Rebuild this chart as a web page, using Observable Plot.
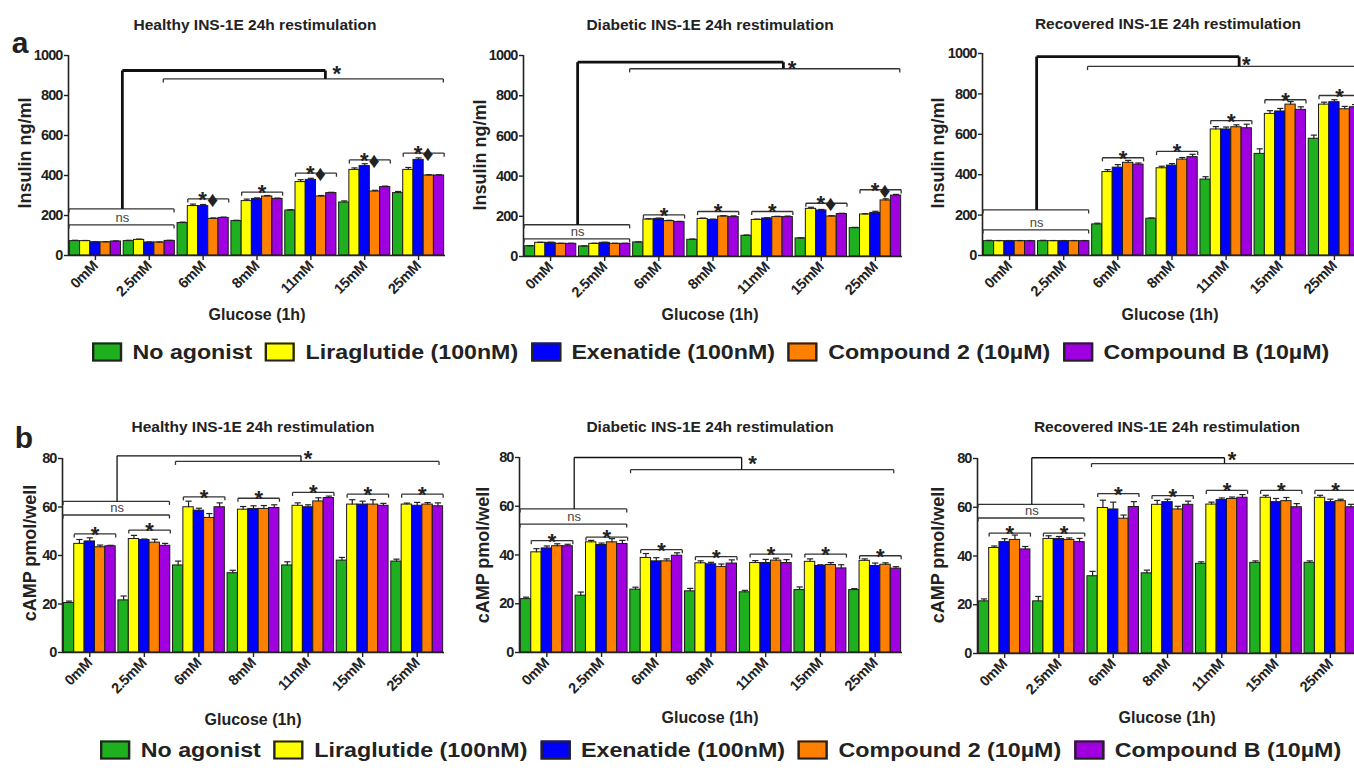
<!DOCTYPE html>
<html><head><meta charset="utf-8">
<script src="https://cdn.jsdelivr.net/npm/d3@7"></script>
<script src="https://cdn.jsdelivr.net/npm/@observablehq/plot@0.6"></script>
<style>
body{margin:0;background:#fff;}
#fig{position:relative;width:1354px;height:772px;overflow:hidden;background:#fff;font-family:'Liberation Sans',Arial,sans-serif;color:#222;}
.abs{position:absolute;white-space:nowrap;}
.title{font-weight:bold;font-size:15.5px;transform:translate(-50%,-50%);}
.xl{font-weight:bold;font-size:16px;transform:translate(-50%,-50%);}
.yl{font-weight:bold;font-size:18px;transform:translate(-50%,-50%) rotate(-90deg);}
.letter{font-weight:bold;font-size:30px;transform:translate(-50%,-50%);}
.legend{display:flex;align-items:center;font-weight:bold;font-size:20px;transform-origin:0 50%;}
.sw{display:inline-block;width:22px;height:15px;border:2px solid #222;margin-right:9px;}
.item{display:flex;align-items:center;margin-right:11px;}
</style></head>
<body><div id="fig"></div>
<script>
const glucose = ["0mM","2.5mM","6mM","8mM","11mM","15mM","25mM"];
const treatments = ["No agonist","Liraglutide (100nM)","Exenatide (100nM)","Compound 2 (10µM)","Compound B (10µM)"];
const colors = ["#1fb01f","#ffff00","#0000ff","#ff7f00","#a000e0"];

// Insulin ng/ml (rows = treatments, columns = glucose)
const insulinHealthy = [
  [72,72,162,172,225,265,312],
  [72,78,247,272,367,428,428],
  [66,65,247,283,378,447,478],
  [66,65,183,295,295,320,400],
  [70,73,188,283,312,342,400]];
const insulinHealthyErr = [
  [4,4,5,4,4,8,8],[3,4,10,10,12,10,12],[3,3,8,5,8,12,10],[3,3,5,5,5,6,4],[3,3,4,4,4,5,4]];
const insulinDiabetic = [
  [51,50,70,83,103,90,141],
  [68,63,184,187,182,237,209],
  [68,68,187,182,189,229,217],
  [63,63,176,199,196,199,279],
  [63,63,171,196,196,211,303]];
const insulinDiabeticErr = [
  [3,3,3,4,4,3,4],[3,3,4,4,4,8,4],[3,3,4,4,4,5,8],[3,3,4,4,4,4,8],[3,3,4,6,5,4,6]];
const insulinRecovered = [
  [71,71,154,182,376,503,578],
  [71,71,413,432,624,701,747],
  [71,71,435,445,624,713,759],
  [71,71,459,475,635,747,724],
  [71,71,450,487,630,721,734]];
const insulinRecoveredErr = [
  [4,4,6,4,14,25,18],[3,3,12,10,14,16,12],[3,3,15,10,12,15,12],[3,3,12,10,12,15,14],[3,3,8,14,20,15,13]];

// cAMP pmol/well
const campHealthy = [
  [20.4,21.5,35.9,32.7,35.9,37.9,37.5],
  [44.8,46.8,59.9,58.9,60.5,61,61],
  [45.8,46.4,58.5,59.2,59.9,61,60.5],
  [43.4,45.3,55.5,59.2,62.3,61,61],
  [43.8,44,59.9,59.6,63.7,60.5,60.3]];
const campHealthyErr = [
  [0.8,1.8,1.8,1.2,1.5,1.3,1],[1.8,1.5,2.5,1.3,1.2,2,0.6],[1.5,0.4,1,1.3,1,1.4,1.4],[0.9,1.4,1.8,1.4,1.5,2,0.8],[0.4,1,1.8,1.3,0.8,1,1.4]];
const campDiabetic = [
  [21.9,23.3,25.8,25.1,24.7,25.6,25.6],
  [41.1,45.2,38.8,36.6,36.7,37.2,37.6],
  [42.7,44.1,37.4,36.2,36.7,35.5,35.5],
  [43.6,45.2,37.4,35.1,37.7,35.9,36],
  [43.6,44.5,39.7,36.5,36.7,34.5,34.4]];
const campDiabeticErr = [
  [0.8,1.5,1,1.2,0.8,1.3,0.6],[1.5,0.8,1.8,1,1,1.2,0.8],[1,0.8,1.5,0.8,1.5,0.5,1.2],[1,1.5,1,1.2,1,1,0.8],[0.8,1.5,1.2,1.5,1.4,1.5,0.8]];
const campRecovered = [
  [21.4,21.4,31.7,32.9,36.8,37.2,37.2],
  [43.3,47,59.7,61,61.1,63.9,63.9],
  [45.7,47,59.1,62.1,63,62.1,62.1],
  [46.6,46.6,55.3,59.1,63.4,62.5,62.5],
  [42.7,45.7,60.1,61,63.9,60,60]];
const campRecoveredErr = [
  [1,2,2,1.3,0.8,0.8,0.8],[0.8,1.3,3.2,1.8,1,1,1],[1.4,1,3,1.2,0.8,1.5,1.2],[2,0.8,1.5,1.3,0.8,1.5,0.8],[1.2,1.5,2.2,1.5,1.3,1.5,1.2]];

const insulinTicks = [0,200,400,600,800,1000];
const campTicks = [0,20,40,60,80];

// significance labels per glucose group
const starsA1 = [null,null,"*♦","*","*♦","*♦","*♦"];
const starsA2 = [null,null,"*","*","*","*♦","*♦"];
const starsA3 = [null,null,"*","*","*","*","*"];
const starsB = ["*","*","*","*","*","*","*"];

const SANS = "'Liberation Sans',Arial,sans-serif";

const panels = [
  {left:0,top:0,width:460,height:330,L:68,R:445,T:55,B:255,ymax:1000,yticks:insulinTicks,
   values:insulinHealthy,errors:insulinHealthyErr,stars:starsA1,starY:[null,null,283,317,412,478,512],
   ns:{up:233,low:153,text:190},big:{top:925,low:883,jx:4.27,lx:1.26,rx:6.46,sx:4.48,sy:933},thickW:2.8,
   title:"Healthy INS-1E 24h restimulation",tp:[255,25],xl:[257,315],yl:[25,153],ylabel:"Insulin ng/ml"},
  {left:460,top:0,width:450,height:330,L:523,R:902,T:55,B:256,ymax:1000,yticks:insulinTicks,
   values:insulinDiabetic,errors:insulinDiabeticErr,stars:starsA2,starY:[null,null,207,224,224,265,332],
   ns:{up:158,low:88,text:121},big:{top:967,low:934,jx:4.3,lx:1.46,rx:6.45,sx:4.46,sy:958},thickW:2.8,
   title:"Diabetic INS-1E 24h restimulation",tp:[710,25],xl:[710,315],yl:[480,155],ylabel:"Insulin ng/ml"},
  {left:910,top:0,width:470,height:330,L:982,R:1361,T:53,B:255,ymax:1000,yticks:insulinTicks,
   values:insulinRecovered,errors:insulinRecoveredErr,stars:starsA3,starY:[null,null,484,515,668,771,792],
   ns:{up:226,low:127,text:160},big:{top:985,low:936,jx:4.24,lx:1.44,rx:6.47,sx:4.37,sy:970},thickW:2.8,
   title:"Recovered INS-1E 24h restimulation",tp:[1168,24],xl:[1170,315],yl:[938,153],ylabel:"Insulin ng/ml"},
  {left:0,top:400,width:460,height:340,L:62,R:444,T:458,B:652,ymax:80,yticks:campTicks,
   values:campHealthy,errors:campHealthyErr,stars:starsB,starY:[48.9,50.5,64.2,63.6,66,65.3,65.3],
   ns:{up:62.3,low:56.7,text:59.6},big:{top:81.1,low:78.8,jx:3.87,lx:1.57,rx:6.4,sx:4.0,sy:81.8},thickW:1.3,
   title:"Healthy INS-1E 24h restimulation",tp:[253,427],xl:[253,720],yl:[30,553],ylabel:"cAMP pmol/well"},
  {left:460,top:400,width:450,height:340,L:519,R:902,T:457,B:652,ymax:80,yticks:campTicks,
   values:campDiabetic,errors:campDiabeticErr,stars:starsB,starY:[45.9,47.3,42.2,39.3,40.4,40.4,39.7],
   ns:{up:58.9,low:52.7,text:55.5},big:{top:80.0,low:75,jx:3.56,lx:1.53,rx:6.34,sx:3.76,sy:79.5},thickW:1.3,
   title:"Diabetic INS-1E 24h restimulation",tp:[710,427],xl:[710,718],yl:[483,555],ylabel:"cAMP pmol/well"},
  {left:910,top:400,width:470,height:340,L:977,R:1357,T:458,B:653,ymax:80,yticks:campTicks,
   values:campRecovered,errors:campRecoveredErr,stars:starsB,starY:[49.4,49.4,65.6,64.8,66.9,66.9,66.9],
   ns:{up:61.2,low:55.6,text:58.7},big:{top:80.3,low:77.9,jx:4.05,lx:1.6,rx:6.47,sx:4.19,sy:81.5},thickW:1.3,
   title:"Recovered INS-1E 24h restimulation",tp:[1167,427],xl:[1167,718],yl:[938,555],ylabel:"cAMP pmol/well"}
];

const fig = document.getElementById("fig");
function addDiv(cls, text, x, y) {
  const d = document.createElement("div");
  d.className = "abs " + cls; d.textContent = text;
  d.style.left = x + "px"; d.style.top = y + "px";
  fig.appendChild(d); return d;
}

const bw = 0.19;
function build(p) {
  const rows = [];
  treatments.forEach((t, s) => p.values[s].forEach((v, g) => rows.push({g, s, t, v, e: p.errors[s][g]})));
  const left = d => d.g - 2.5 * bw + d.s * bw;
  const mid = d => left(d) + bw / 2;
  const cap = bw * 0.3;
  const tk = p.ymax * 0.018;
  const segs = [], thick = [], stars = [], small = [];
  p.starY.forEach((yb, g) => {
    if (yb == null || !p.stars[g]) return;
    const xa = g - 1.5 * bw, xb = g + 2.5 * bw;
    segs.push({x1:xa,y1:yb,x2:xb,y2:yb},{x1:xa,y1:yb,x2:xa,y2:yb-tk},{x1:xb,y1:yb,x2:xb,y2:yb-tk});
    stars.push({x:(xa+xb)/2, y:yb, text:p.stars[g]});
  });
  const nsL = -0.49, nsR = 1.46;
  for (const yy of [p.ns.up, p.ns.low]) {
    segs.push({x1:nsL,y1:yy,x2:nsR,y2:yy},{x1:nsL,y1:yy,x2:nsL,y2:yy-tk},{x1:nsR,y1:yy,x2:nsR,y2:yy-tk});
  }
  small.push({x:0.5, y:p.ns.text, text:"ns"});
  const b = p.big;
  thick.push({x1:0.5,y1:p.ns.up,x2:0.5,y2:b.top},{x1:0.5,y1:b.top,x2:b.jx,y2:b.top},{x1:b.jx,y1:b.top,x2:b.jx,y2:b.low});
  segs.push({x1:b.lx,y1:b.low,x2:b.rx,y2:b.low},{x1:b.lx,y1:b.low,x2:b.lx,y2:b.low-tk},{x1:b.rx,y1:b.low,x2:b.rx,y2:b.low-tk});
  const bigStar = [{x:b.sx, y:b.sy, text:"*"}];

  const plot = Plot.plot({
    width: p.width, height: p.height,
    marginLeft: p.L - p.left, marginRight: p.left + p.width - p.R,
    marginTop: p.T - p.top, marginBottom: p.top + p.height - p.B,
    x: {domain: [-0.5, 6.5]},
    y: {domain: [0, p.ymax]},
    color: {domain: treatments, range: colors},
    style: {background: "transparent", overflow: "visible", color: "#222", fontFamily: SANS},
    marks: [
      Plot.rect(rows, {x1: left, x2: d => left(d) + bw, y1: 0, y2: "v", fill: "t", stroke: "#1c1c1c", strokeWidth: 1}),
      Plot.link(rows, {x1: mid, x2: mid, y1: "v", y2: d => d.v + d.e, stroke: "#222", strokeWidth: 1.2}),
      Plot.link(rows, {x1: d => mid(d) - cap, x2: d => mid(d) + cap, y1: d => d.v + d.e, y2: d => d.v + d.e, stroke: "#222", strokeWidth: 1.2}),
      Plot.ruleY([0], {stroke: "#222", strokeWidth: 1.6}),
      Plot.ruleX([-0.5], {stroke: "#222", strokeWidth: 1.6}),
      Plot.axisY({ticks: p.yticks, tickFormat: d => String(d), tickSize: 4, tickPadding: 2, label: null, fontSize: 14.5, fontWeight: "bold", stroke: "#222", strokeWidth: 1.4}),
      Plot.axisX({ticks: d3.range(glucose.length), tickFormat: i => glucose[i], tickRotate: -45, tickSize: 5, tickPadding: 3, label: null, fontSize: 14.5, fontWeight: "bold", stroke: "#222", strokeWidth: 1.4}),
      Plot.link(segs, {x1: "x1", y1: "y1", x2: "x2", y2: "y2", stroke: "#333", strokeWidth: 1.3}),
      Plot.link(thick, {x1: "x1", y1: "y1", x2: "x2", y2: "y2", stroke: "#111", strokeWidth: p.thickW}),
      Plot.text(stars, {x: "x", y: "y", text: "text", fontSize: 22, fontWeight: "bold", fill: "#222", lineAnchor: "bottom", dy: 8}),
      Plot.text(bigStar, {x: "x", y: "y", text: "text", fontSize: 22, fontWeight: "bold", fill: "#222", lineAnchor: "middle", dy: 5}),
      Plot.text(small, {x: "x", y: "y", text: "text", fontSize: 13, fill: "#444", lineAnchor: "middle"})
    ]
  });
  // condensed look for the numeric y tick labels
  plot.querySelectorAll('[aria-label="y-axis tick label"]').forEach(g => g.style.letterSpacing = "-0.9px");
  plot.querySelectorAll('[aria-label="x-axis tick label"]').forEach(g => g.style.letterSpacing = "-0.4px");
  const wrap = document.createElement("div");
  wrap.className = "abs";
  wrap.style.left = p.left + "px"; wrap.style.top = p.top + "px";
  wrap.style.width = p.width + "px"; wrap.style.height = p.height + "px";
  wrap.appendChild(plot);
  fig.appendChild(wrap);
  addDiv("title", p.title, p.tp[0], p.tp[1]);
  addDiv("xl", "Glucose (1h)", p.xl[0], p.xl[1]);
  addDiv("yl", p.ylabel, p.yl[0], p.yl[1]);
}
panels.forEach(build);

addDiv("letter", "a", 20, 43);
addDiv("letter", "b", 24, 438);

function legend(x, y, targetWidth) {
  const lg = document.createElement("div");
  lg.className = "abs legend";
  lg.style.left = x + "px"; lg.style.top = y + "px";
  treatments.forEach((t, i) => {
    const it = document.createElement("span"); it.className = "item";
    const sw = document.createElement("span"); sw.className = "sw"; sw.style.background = colors[i];
    const tx = document.createElement("span"); tx.textContent = t;
    it.appendChild(sw); it.appendChild(tx); lg.appendChild(it);
  });
  fig.appendChild(lg);
  const w = lg.getBoundingClientRect().width;
  lg.style.transform = `translateY(-50%) scaleX(${targetWidth / w})`;
}
legend(92, 352, 1250);
legend(100, 750, 1254);
</script></body></html>
